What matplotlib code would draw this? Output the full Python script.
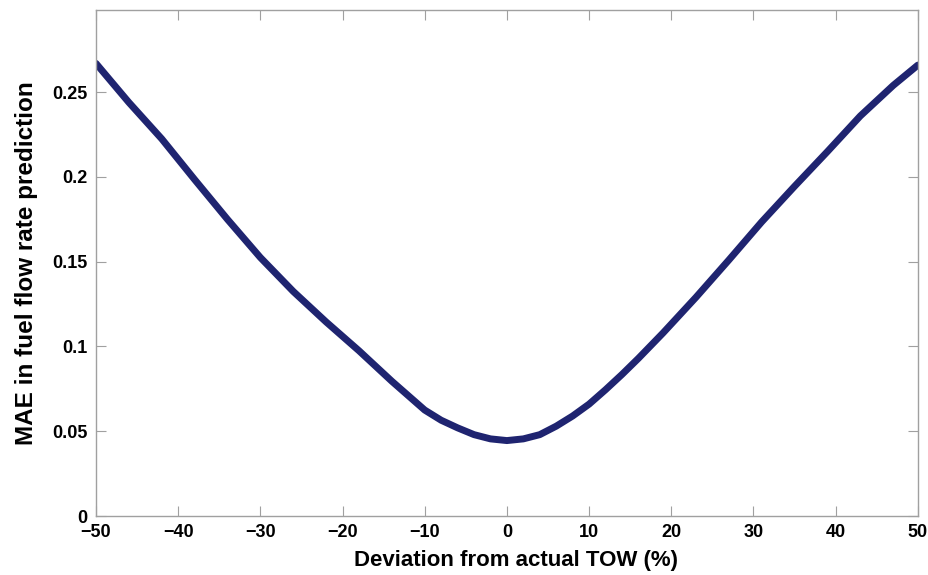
import matplotlib.pyplot as plt

# values
deviation = [-50, -46, -42, -38, -34, -30, -26, -22, -18, -16, -14, -12, -10, -8, -6, -4, -2, 0,
             2, 4, 6, 8, 10, 12, 14, 16, 19, 23, 27, 31, 35, 39, 43, 47, 50]
mae = [0.267, 0.244, 0.2225, 0.1985, 0.175, 0.1525, 0.1325, 0.1145, 0.0975, 0.0885, 0.0795,
       0.071, 0.0625, 0.0565, 0.052, 0.048, 0.0455, 0.0445,
       0.0455, 0.048, 0.053, 0.059, 0.066, 0.0745, 0.0835, 0.093, 0.108, 0.129,
       0.151, 0.1735, 0.1945, 0.215, 0.236, 0.254, 0.266]

xticks = [-50, -40, -30, -20, -10, 0, 10, 20, 30, 40, 50]
yticks = [0, 0.05, 0.1, 0.15, 0.2, 0.25]
ytick_labels = ["0", "0.05", "0.1", "0.15", "0.2", "0.25"]

plt.rcParams["font.family"] = ["Liberation Sans", "DejaVu Sans"]

fig = plt.figure(figsize=(9.29, 5.75), dpi=100)
ax = fig.add_axes([0.1033, 0.1026, 0.8847, 0.88])

ax.plot(deviation, mae, color="#1f2470", lw=5, solid_capstyle="round",
        solid_joinstyle="round")

ax.set_xlim(-50, 50)
ax.set_ylim(0, 0.2985)
ax.set_xticks(xticks)
ax.set_yticks(yticks)
ax.set_yticklabels(ytick_labels)

for s in ax.spines.values():
    s.set_color("#a0a0a0")
    s.set_linewidth(1.0)
ax.tick_params(direction="in", length=7, width=0.8, color="#a0a0a0",
               top=True, right=True, labelsize=13, pad=6)
for lab in ax.get_xticklabels() + ax.get_yticklabels():
    lab.set_fontweight("bold")

ax.set_xlabel("Deviation from actual TOW (%)", fontsize=16, fontweight="bold")
ax.xaxis.set_label_coords(0.511, -0.068)
ax.set_ylabel("MAE in fuel flow rate prediction", fontsize=17.5, fontweight="bold", labelpad=10)

fig.savefig("out.png", dpi=100)
